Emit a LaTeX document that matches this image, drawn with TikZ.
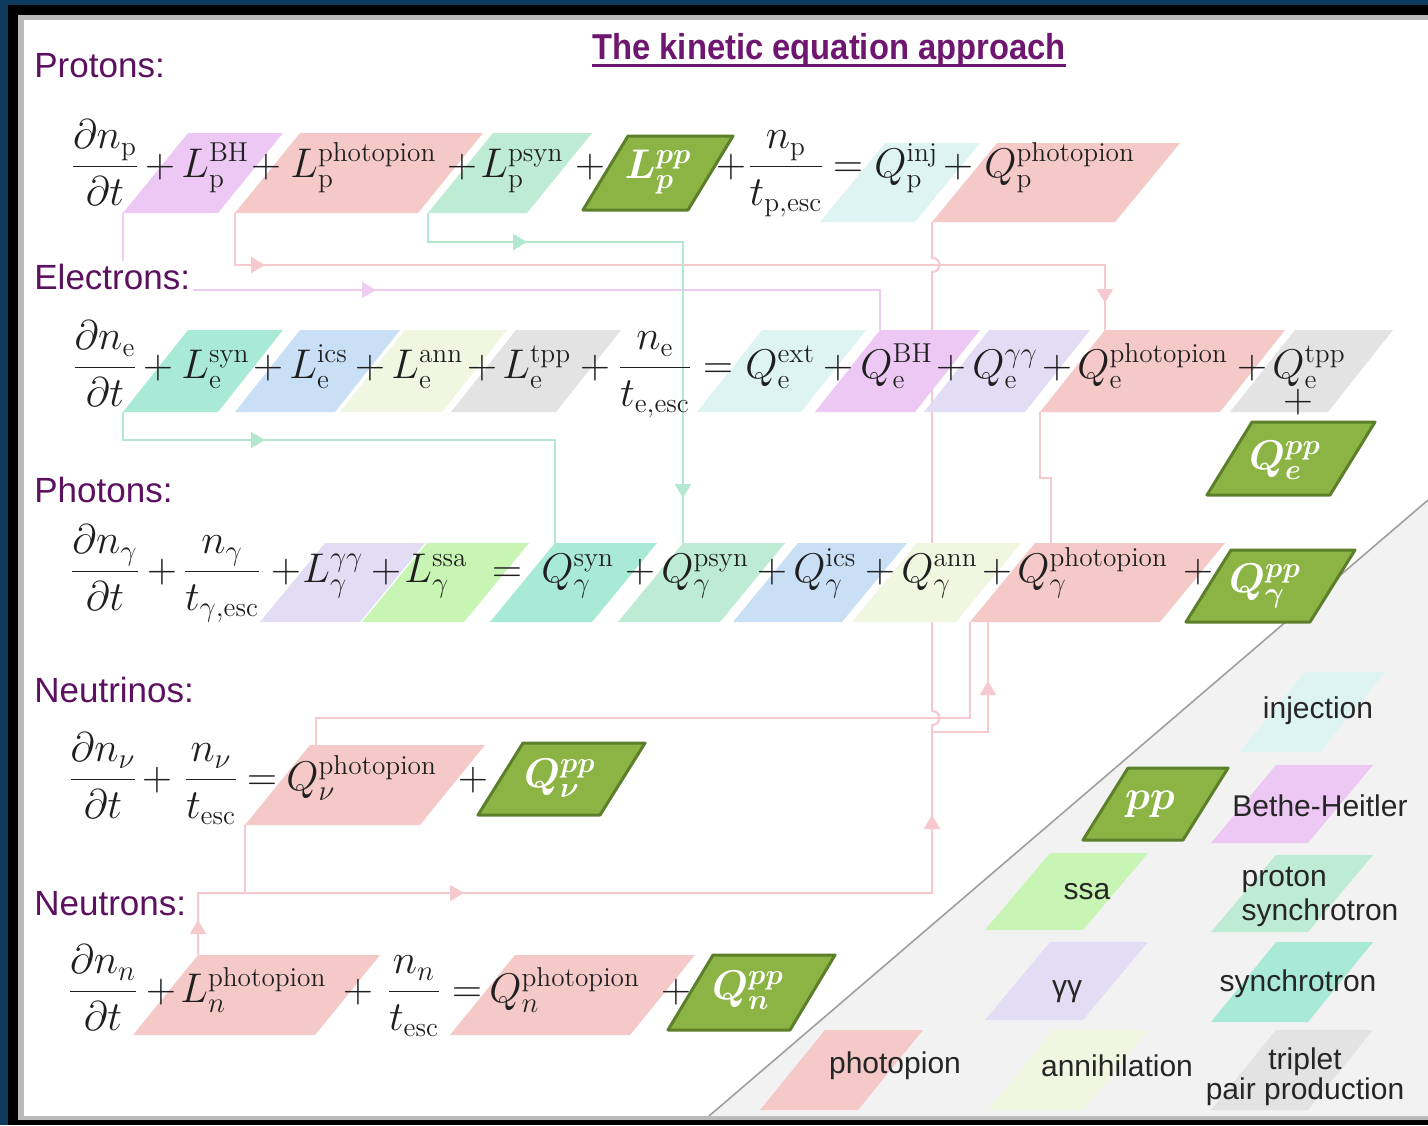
\documentclass[tikz,border=0pt]{standalone}
\usepackage{amsmath}
\usepackage{bm}
\usepackage{graphicx}
\usepackage{fontspec}
\newfontfamily\arialf{Liberation Sans}
\usetikzlibrary{arrows.meta,decorations.markings,calc}
\pgfdeclarelayer{back}
\pgfdeclarelayer{lines}
\pgfsetlayers{back,lines,main}

\definecolor{frameblue}{HTML}{0E3A5E}
\definecolor{labpurple}{HTML}{5C1060}
\definecolor{titpurple}{HTML}{6E1670}
\definecolor{cBH}{HTML}{EEC8F4}
\definecolor{cPh}{HTML}{F6C9C9}
\definecolor{cPsyn}{HTML}{BDEBD3}
\definecolor{cSyn}{HTML}{A9EAD6}
\definecolor{cIcs}{HTML}{C9DFF6}
\definecolor{cAnn}{HTML}{F1F6E0}
\definecolor{cTpp}{HTML}{E3E3E3}
\definecolor{cInj}{HTML}{DDF4F3}
\definecolor{cGG}{HTML}{E2DDF5}
\definecolor{cSsa}{HTML}{C8F4B4}
\definecolor{ppfill}{HTML}{8BB445}
\definecolor{ppdraw}{HTML}{5C7F2A}
\definecolor{lPink}{HTML}{F5C9CE}
\definecolor{lViol}{HTML}{EFCDF3}
\definecolor{lGreen}{HTML}{B2E8D0}
\definecolor{triGrey}{HTML}{F2F2F2}

% name, style, BLx, BRx, ytop, ybot, slant
\newcommand{\pgmbox}[7]{\path[#2] (#3,#6) coordinate (#1-bl) -- (#4,#6) coordinate (#1-br) -- ({#4+#7},#5) coordinate (#1-tr) -- ({#3+#7},#5) coordinate (#1-tl) -- cycle;}

\begin{document}
\begin{tikzpicture}[x=0.5pt,y=-0.5pt,
  eq/.style={anchor=base, inner sep=0pt, font=\fontsize{19.5}{23}\selectfont, text=black!88},
  eqw/.style={eq, anchor=base west},
  lab/.style={anchor=base west, font=\arialf\fontsize{17.5}{21}\selectfont, text=labpurple, fill=white, inner sep=1.5pt},
  leg/.style={font=\arialf\fontsize{15}{17}\selectfont, text=black!85, inner sep=0pt},
  ppbox/.style={fill=ppfill, draw=ppdraw, line width=1.5pt, line join=round},
  pptext/.style={text=white, font=\fontsize{21}{25}\selectfont, inner sep=0pt},
  conn/.style={line width=1pt},
  arr/.style={postaction={decorate, decoration={markings, mark=at position #1 with {\arrow{Triangle[length=7pt,width=8pt]}}}}}
]
\useasboundingbox (0,0) rectangle (1428,1125);

\begin{pgfonlayer}{back}
\fill[frameblue] (0,0) rectangle (1428,1125);
\fill[black] (8,5) rectangle (1428,1125);
\fill[gray!55] (18,15) rectangle (1428,1120);
\fill[white] (24,20) rectangle (1428,1116);
\fill[triGrey] (709,1116) -- (1428,500) -- (1428,1116) -- cycle;
\draw[gray!75, line width=0.8pt] (709,1116) -- (1428,500);
\end{pgfonlayer}

% ---------- boxes ----------
% protons
\pgmbox{pBH}{fill=cBH}{123}{218}{133}{213}{65}
\pgmbox{pPh}{fill=cPh}{235}{418}{133}{213}{65}
\pgmbox{pPsyn}{fill=cPsyn}{428}{527}{133}{213}{65}
\pgmbox{pPP}{ppbox}{583}{688}{136}{210}{45}
\pgmbox{pInj}{fill=cInj}{820}{915}{143}{222}{65}
\pgmbox{pQph}{fill=cPh}{932}{1115}{143}{222}{65}
% electrons
\pgmbox{eSyn}{fill=cSyn}{123}{218}{330}{412}{65}
\pgmbox{eIcs}{fill=cIcs}{235}{335}{330}{412}{65}
\pgmbox{eAnn}{fill=cAnn}{340}{442}{330}{412}{65}
\pgmbox{eTpp}{fill=cTpp}{451}{556}{330}{412}{65}
\pgmbox{eExt}{fill=cInj}{697}{801}{330}{412}{65}
\pgmbox{eBH}{fill=cBH}{815}{915}{330}{412}{65}
\pgmbox{eGG}{fill=cGG}{924}{1025}{330}{412}{65}
\pgmbox{ePh}{fill=cPh}{1040}{1220}{330}{412}{65}
\pgmbox{eTppQ}{fill=cTpp}{1230}{1328}{330}{412}{65}
\pgmbox{ePP}{ppbox}{1207}{1330}{422}{495}{45}
% photons
\pgmbox{gGG}{fill=cGG}{260}{360}{543}{622}{65}
\pgmbox{gSsa}{fill=cSsa}{362}{464}{543}{622}{65}
\pgmbox{gSyn}{fill=cSyn}{490}{592}{543}{622}{65}
\pgmbox{gPsyn}{fill=cPsyn}{618}{720}{543}{622}{65}
\pgmbox{gIcs}{fill=cIcs}{733}{842}{543}{622}{65}
\pgmbox{gAnn}{fill=cAnn}{852}{956}{543}{622}{65}
\pgmbox{gPh}{fill=cPh}{970}{1160}{543}{622}{65}
\pgmbox{gPP}{ppbox}{1186}{1310}{550}{622}{45}
% neutrinos
\pgmbox{vPh}{fill=cPh}{245}{420}{745}{825}{65}
\pgmbox{vPP}{ppbox}{478}{600}{743}{815}{45}
% neutrons
\pgmbox{nPh}{fill=cPh}{133}{315}{955}{1035}{65}
\pgmbox{nQph}{fill=cPh}{450}{630}{955}{1035}{65}
\pgmbox{nPP}{ppbox}{668}{790}{955}{1030}{45}
% legend
\pgmbox{kInj}{fill=cInj}{1240}{1320}{672}{752}{65}
\pgmbox{kPP}{ppbox}{1083}{1183}{768}{840}{45}
\pgmbox{kBH}{fill=cBH}{1211}{1308}{765}{843}{65}
\pgmbox{kSsa}{fill=cSsa}{985}{1083}{853}{930}{65}
\pgmbox{kPsyn}{fill=cPsyn}{1211}{1308}{855}{932}{65}
\pgmbox{kGG}{fill=cGG}{985}{1083}{942}{1020}{65}
\pgmbox{kSyn}{fill=cSyn}{1211}{1308}{942}{1022}{65}
\pgmbox{kPh}{fill=cPh}{760}{858}{1030}{1110}{65}
\pgmbox{kAnn}{fill=cAnn}{988}{1083}{1030}{1110}{65}
\pgmbox{kTpp}{fill=cTpp}{1211}{1308}{1030}{1110}{65}

% ---------- connectors ----------
\coordinate (j1) at (932,732);
\coordinate (j2) at (245,893);
\begin{pgfonlayer}{lines}
\draw[conn, lViol, arr=165pt] (pBH-bl) -- ++(0,77) -| (eBH-tl);
\draw[conn, lPink, arr=41pt, arr=480pt] (pPh-bl) -- ++(0,52) -| (ePh-tl);
\draw[conn, lGreen, arr=64pt, arr=270pt] (pPsyn-bl) -- ++(0,29) -| (gPsyn-tl);
\draw[conn, lGreen, arr=85pt] (eSyn-bl) -- ++(0,28) -| (gSyn-tl);
\draw[conn, lPink, arr=17.5pt, arr=164pt, arr=437pt] (nPh-tl) -- ++(0,-62) -- (932,893) -- (932,725)
   .. controls (942,725) and (942,711) .. (932,711) -- (932,272)
   .. controls (942,272) and (942,258) .. (932,258) -- (pQph-bl);
\draw[conn, lPink, arr=53.5pt] (j1) -| ([xshift=9pt]gPh-bl);
\draw[conn, lPink] (gPh-bl) -- ++(0,96) -| ([xshift=3pt]vPh-tl);
\draw[conn, lPink] (vPh-bl) -- (j2);
\draw[conn, lPink] (ePh-bl) -- ++(0,66) -| ([xshift=8pt]gPh-tl);
\end{pgfonlayer}

% ---------- title and labels ----------
\node[anchor=base, inner sep=0pt, font=\arialf\fontsize{18}{21}\selectfont, text=titpurple] (title) at (829,59) {\scalebox{0.91}[1]{\bfseries The kinetic equation approach}};
\draw[titpurple, line width=1.5pt] ([yshift=-3pt]title.base west) -- ([yshift=-3pt]title.base east);
\node[lab] (lp) at (31,77) {Protons:};
\node[lab] (le) at (31,289) {Electrons:};
\node[lab] (lg) at (31,502) {Photons:};
\node[lab] (lv) at (31,702) {Neutrinos:};
\node[lab] (ln) at (31,915) {Neutrons:};

% ---------- protons ----------
\node[eq] (p1) at (105,177) {$\displaystyle\frac{\partial n_{\mathrm p}}{\partial t}$};
\node[eq] (p2) at (160,177) {$+$};
\node[eqw] (p3) at (181,177) {$L_{\mathrm p}^{\mathrm{BH}}$};
\node[eq] (p4) at (266,177) {$+$};
\node[eqw] (p5) at (290,177) {$L_{\mathrm p}^{\mathrm{photopion}}$};
\node[eq] (p6) at (462,177) {$+$};
\node[eqw] (p7) at (480,177) {$L_{\mathrm p}^{\mathrm{psyn}}$};
\node[eq] (p8) at (590,177) {$+$};
\node[pptext] (p9) at (658,172) {$\bm{L}_{\bm{p}}^{\bm{pp}}$};
\node[eq] (p10) at (731,177) {$+$};
\node[eq] (p11) at (786,177) {$\displaystyle\frac{n_{\mathrm p}}{t_{\mathrm{p,esc}}}$};
\node[eq] (p12) at (848,177) {$=$};
\node[eqw] (p13) at (874,177) {$Q_{\mathrm p}^{\mathrm{inj}}$};
\node[eq] (p14) at (958,177) {$+$};
\node[eqw] (p15) at (984,177) {$Q_{\mathrm p}^{\mathrm{photopion}}$};

% ---------- electrons ----------
\node[eq] (e1) at (105,378) {$\displaystyle\frac{\partial n_{\mathrm e}}{\partial t}$};
\node[eq] (e2) at (158,378) {$+$};
\node[eqw] (e3) at (181,378) {$L_{\mathrm e}^{\mathrm{syn}}$};
\node[eq] (e4) at (268,378) {$+$};
\node[eqw] (e5) at (289,378) {$L_{\mathrm e}^{\mathrm{ics}}$};
\node[eq] (e6) at (370,378) {$+$};
\node[eqw] (e7) at (391,378) {$L_{\mathrm e}^{\mathrm{ann}}$};
\node[eq] (e8) at (482,378) {$+$};
\node[eqw] (e9) at (502,378) {$L_{\mathrm e}^{\mathrm{tpp}}$};
\node[eq] (e10) at (595,378) {$+$};
\node[eq] (e11) at (655,378) {$\displaystyle\frac{n_{\mathrm e}}{t_{\mathrm{e,esc}}}$};
\node[eq] (e12) at (718,378) {$=$};
\node[eqw] (e13) at (745,378) {$Q_{\mathrm e}^{\mathrm{ext}}$};
\node[eq] (e14) at (838,378) {$+$};
\node[eqw] (e15) at (860,378) {$Q_{\mathrm e}^{\mathrm{BH}}$};
\node[eq] (e16) at (951,378) {$+$};
\node[eqw] (e17) at (972,378) {$Q_{\mathrm e}^{\gamma\gamma}$};
\node[eq] (e18) at (1057,378) {$+$};
\node[eqw] (e19) at (1077,378) {$Q_{\mathrm e}^{\mathrm{photopion}}$};
\node[eq] (e20) at (1252,378) {$+$};
\node[eqw] (e21) at (1272,378) {$Q_{\mathrm e}^{\mathrm{tpp}}$};
\node[eq] (e22) at (1298,412) {$+$};
\node[pptext] (e23) at (1285,460) {$\bm{Q}_{\bm{e}}^{\bm{pp}}$};

% ---------- photons ----------
\node[eq] (g1) at (105,582) {$\displaystyle\frac{\partial n_{\gamma}}{\partial t}$};
\node[eq] (g2) at (162,582) {$+$};
\node[eq] (g3) at (222,582) {$\displaystyle\frac{n_{\gamma}}{t_{\gamma,\mathrm{esc}}}$};
\node[eq] (g4) at (286,582) {$+$};
\node[eqw] (g5) at (302,582) {$L_{\gamma}^{\gamma\gamma}$};
\node[eq] (g6) at (386,582) {$+$};
\node[eqw] (g7) at (404,582) {$L_{\gamma}^{\mathrm{ssa}}$};
\node[eq] (g8) at (507,582) {$=$};
\node[eqw] (g9) at (541,582) {$Q_{\gamma}^{\mathrm{syn}}$};
\node[eq] (g10) at (640,582) {$+$};
\node[eqw] (g11) at (661,582) {$Q_{\gamma}^{\mathrm{psyn}}$};
\node[eq] (g12) at (772,582) {$+$};
\node[eqw] (g13) at (793,582) {$Q_{\gamma}^{\mathrm{ics}}$};
\node[eq] (g14) at (880,582) {$+$};
\node[eqw] (g15) at (901,582) {$Q_{\gamma}^{\mathrm{ann}}$};
\node[eq] (g16) at (997,582) {$+$};
\node[eqw] (g17) at (1017,582) {$Q_{\gamma}^{\mathrm{photopion}}$};
\node[eq] (g18) at (1198,582) {$+$};
\node[pptext] (g19) at (1265,586) {$\bm{Q}_{\bm{\gamma}}^{\bm{pp}}$};

% ---------- neutrinos ----------
\node[eq] (v1) at (103,790) {$\displaystyle\frac{\partial n_{\nu}}{\partial t}$};
\node[eq] (v2) at (157,790) {$+$};
\node[eq] (v3) at (211,790) {$\displaystyle\frac{n_{\nu}}{t_{\mathrm{esc}}}$};
\node[eq] (v4) at (262,790) {$=$};
\node[eqw] (v5) at (286,790) {$Q_{\nu}^{\mathrm{photopion}}$};
\node[eq] (v6) at (473,790) {$+$};
\node[pptext] (v7) at (560,778) {$\bm{Q}_{\bm{\nu}}^{\bm{pp}}$};

% ---------- neutrons ----------
\node[eq] (n1) at (103,1002) {$\displaystyle\frac{\partial n_{n}}{\partial t}$};
\node[eq] (n2) at (161,1002) {$+$};
\node[eqw] (n3) at (180,1002) {$L_{n}^{\mathrm{photopion}}$};
\node[eq] (n4) at (358,1002) {$+$};
\node[eq] (n5) at (414,1002) {$\displaystyle\frac{n_{n}}{t_{\mathrm{esc}}}$};
\node[eq] (n6) at (467,1002) {$=$};
\node[eqw] (n7) at (489,1002) {$Q_{n}^{\mathrm{photopion}}$};
\node[eq] (n8) at (676,1002) {$+$};
\node[pptext] (n9) at (748,990) {$\bm{Q}_{\bm{n}}^{\bm{pp}}$};

% ---------- legend ----------
\node[leg] (kInjT) at (1318,711) {injection};
\node[leg] (kBHT) at (1320,806) {Bethe-Heitler};
\node[pptext, font=\fontsize{20}{24}\selectfont] (kPPT) at (1150,804) {$\bm{pp}$};
\node[leg] (kSsaT) at (1087,892) {ssa};
\node[leg, align=left] (kPsynT) at (1320,897) {proton\\synchrotron};
\node[leg] (kGGT) at (1067,992) {γγ};
\node[leg] (kSynT) at (1298,984) {synchrotron};
\node[leg] (kPhT) at (895,1066) {photopion};
\node[leg] (kAnnT) at (1117,1066) {annihilation};
\node[leg, align=center, font=\arialf\fontsize{15}{11}\selectfont] (kTppT) at (1305,1077) {triplet\\pair production};
\end{tikzpicture}
\end{document}
